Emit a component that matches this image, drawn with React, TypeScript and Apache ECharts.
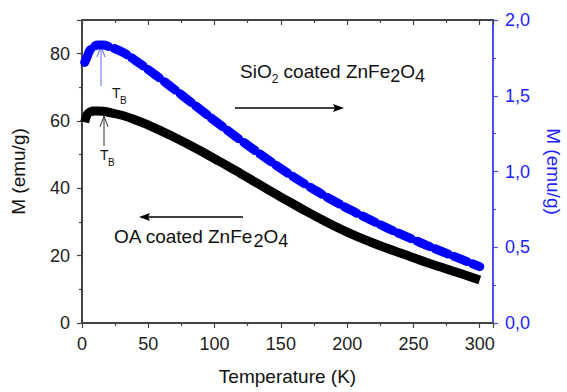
import React, { useEffect, useRef } from "react";
import * as echarts from "echarts";

const temps = [2, 4, 6, 9, 12, 16, 20, 30, 40, 50, 60, 70, 80, 90, 100, 110, 120, 130, 140, 150, 160, 170, 180, 190, 200, 210, 220, 230, 240, 250, 260, 270, 280, 290, 300];
const oaM = [59.6, 62.0, 62.7, 63.0, 63.0, 62.9, 62.6, 61.7, 60.4, 58.8, 57.0, 55.1, 53.1, 51.0, 48.8, 46.6, 44.3, 42.0, 39.7, 37.4, 35.2, 33.0, 30.9, 28.9, 27.0, 25.3, 23.7, 22.2, 20.8, 19.4, 18.0, 16.7, 15.4, 14.1, 12.8];
const sio2M = [1.72, 1.76, 1.80, 1.825, 1.835, 1.835, 1.825, 1.79, 1.735, 1.672, 1.607, 1.54, 1.472, 1.404, 1.336, 1.27, 1.205, 1.142, 1.08, 1.02, 0.962, 0.907, 0.855, 0.805, 0.758, 0.713, 0.67, 0.628, 0.588, 0.55, 0.513, 0.477, 0.442, 0.407, 0.372];

const xTicks = { min: 0, max: 310, interval: 50 };
const leftTicks = { min: 0, max: 90, interval: 20 };
const rightTicks = { min: 0, max: 2, interval: 0.5 };

const FONT = "Liberation Sans, Arial, sans-serif";
const AXIS_GRAY = "#444";
const BLUE = "#0000ff";
const BLUE_AXIS = "#4d4dff";
const BLUE_TEXT = "#2222ff";

export default function App() {
  const ref = useRef<HTMLDivElement>(null);
  useEffect(() => {
    if (!ref.current) return;
    const chart = echarts.init(ref.current, null, { renderer: "svg" });
    const tickLabel = { fontFamily: FONT, fontSize: 18, color: "#222" };
    chart.setOption({
      animation: false,
      backgroundColor: "#fff",
      grid: {
        left: 82, right: 74, top: 20, bottom: 69,
        outerBoundsMode: "none",
        containLabel: false,
      },
      xAxis: [
        {
          type: "value",
          min: xTicks.min,
          max: xTicks.max,
          interval: xTicks.interval,
          name: "Temperature (K)",
          nameLocation: "middle",
          nameGap: 44,
          nameTextStyle: { fontFamily: FONT, fontSize: 19, color: "#111" },
          axisLine: { show: true, onZero: false, lineStyle: { color: AXIS_GRAY, width: 2 } },
          axisTick: { show: true, length: 5, lineStyle: { color: AXIS_GRAY, width: 1.2 } },
          minorTick: { show: true, splitNumber: 2, length: 3, lineStyle: { color: AXIS_GRAY, width: 1.2 } },
          axisLabel: { ...tickLabel, margin: 12, showMaxLabel: false },
          splitLine: { show: false },
        },
        {
          type: "value",
          position: "top",
          min: xTicks.min,
          max: xTicks.max,
          interval: xTicks.interval,
          axisLine: { show: true, onZero: false, lineStyle: { color: AXIS_GRAY, width: 2 } },
          axisTick: { show: true, inside: true, length: 5, lineStyle: { color: AXIS_GRAY, width: 1.2 } },
          minorTick: { show: true, splitNumber: 2, length: 3, lineStyle: { color: AXIS_GRAY, width: 1.2 } },
          axisLabel: { show: false },
          splitLine: { show: false },
        },
      ],
      yAxis: [
        {
          type: "value",
          position: "left",
          min: leftTicks.min,
          max: leftTicks.max,
          interval: leftTicks.interval,
          name: "M (emu/g)",
          nameLocation: "middle",
          nameGap: 54,
          nameTextStyle: { fontFamily: FONT, fontSize: 19, color: "#111" },
          axisLine: { show: true, onZero: false, lineStyle: { color: AXIS_GRAY, width: 2 } },
          axisTick: { show: true, length: 5, lineStyle: { color: AXIS_GRAY, width: 1.2 } },
          minorTick: { show: true, splitNumber: 2, length: 3, lineStyle: { color: AXIS_GRAY, width: 1.2 } },
          axisLabel: { ...tickLabel, margin: 12, showMaxLabel: false },
          splitLine: { show: false },
        },
        {
          type: "value",
          position: "right",
          min: rightTicks.min,
          max: rightTicks.max,
          interval: rightTicks.interval,
          name: "M (emu/g)",
          nameLocation: "middle",
          nameRotate: -90,
          nameGap: 51,
          nameTextStyle: { fontFamily: FONT, fontSize: 19, color: BLUE_TEXT },
          axisLine: { show: true, onZero: false, lineStyle: { color: BLUE_AXIS, width: 2 } },
          axisTick: { show: true, length: 5, lineStyle: { color: BLUE_AXIS, width: 1.2 } },
          minorTick: { show: true, splitNumber: 2, length: 3, lineStyle: { color: BLUE_AXIS, width: 1.2 } },
          axisLabel: {
            ...tickLabel,
            color: BLUE_TEXT,
            margin: 12,
            formatter: (v: number) => v.toFixed(1).replace(".", ","),
          },
          splitLine: { show: false },
        },
      ],
      series: [
        {
          name: "OA coated ZnFe2O4",
          type: "line",
          xAxisIndex: 0,
          yAxisIndex: 0,
          data: temps.map((t, i) => [t, oaM[i]]),
          showSymbol: false,
          smooth: 0.4,
          lineStyle: { color: "#000", width: 9 },
          z: 2,
        },
        {
          name: "SiO2 coated ZnFe2O4",
          type: "line",
          xAxisIndex: 0,
          yAxisIndex: 1,
          data: temps.map((t, i) => [t, sio2M[i]]),
          showSymbol: false,
          smooth: 0.4,
          lineStyle: { color: BLUE, width: 9, type: [14, 6], cap: "round" },
          z: 3,
        },
      ],
    });

    const sub = (x: number, y: number, main: string, s: string, color: string) => [
      { type: "text", x, y, style: { text: main, fontFamily: FONT, fontSize: 14, fill: color } },
      { type: "text", x: x + 8, y: y + 9, style: { text: s, fontFamily: FONT, fontSize: 10, fill: color } },
    ];

    const richStyle = {
      fontFamily: FONT,
      fontSize: 19,
      fill: "#111",
      rich: {
        n: { fontFamily: FONT, fontSize: 19, color: "#111", lineHeight: 22 },
        s: { fontFamily: FONT, fontSize: 12, color: "#111", lineHeight: 12, padding: [16, 0, 0, 0] },
        b: { fontFamily: FONT, fontSize: 18, color: "#111", lineHeight: 22, padding: [9, 0, 0, 0] },
      },
    };

    chart.setOption({
      graphic: [
        {
          type: "text",
          x: 240,
          y: 60,
          style: { ...richStyle, text: "{n|SiO}{s|2}{n| coated ZnFe}{b|2}{n|O}{b|4}" },
        },
        { type: "line", shape: { x1: 235, y1: 108, x2: 336, y2: 108 }, style: { stroke: "#000", lineWidth: 1.5 } },
        { type: "polygon", shape: { points: [[344, 108], [333, 104], [335, 108], [333, 112]] }, style: { fill: "#000" } },
        {
          type: "text",
          x: 114,
          y: 225,
          style: { ...richStyle, text: "{n|OA coated ZnFe}{b|2}{n|O}{b|4}" },
        },
        { type: "line", shape: { x1: 146, y1: 217, x2: 243, y2: 217 }, style: { stroke: "#000", lineWidth: 1.5 } },
        { type: "polygon", shape: { points: [[139, 217], [150, 213], [148, 217], [150, 221]] }, style: { fill: "#000" } },
        { type: "line", shape: { x1: 101, y1: 86, x2: 101, y2: 47 }, style: { stroke: "#8080ff", lineWidth: 1.2 } },
        { type: "polyline", shape: { points: [[97, 57], [101, 46], [105, 57]] }, style: { stroke: "#8080ff", lineWidth: 1.2, fill: null } },
        ...sub(112, 86, "T", "B", "#111"),
        { type: "line", shape: { x1: 104, y1: 146, x2: 104, y2: 117 }, style: { stroke: "#333", lineWidth: 1 } },
        { type: "polyline", shape: { points: [[100, 127], [104, 116], [108, 127]] }, style: { stroke: "#333", lineWidth: 1, fill: null } },
        ...sub(100, 148, "T", "B", "#111"),
      ],
    });
    return () => chart.dispose();
  }, []);
  return <div ref={ref} style={{ position: "fixed", left: 0, top: 0, width: 567, height: 392 }} />;
}
